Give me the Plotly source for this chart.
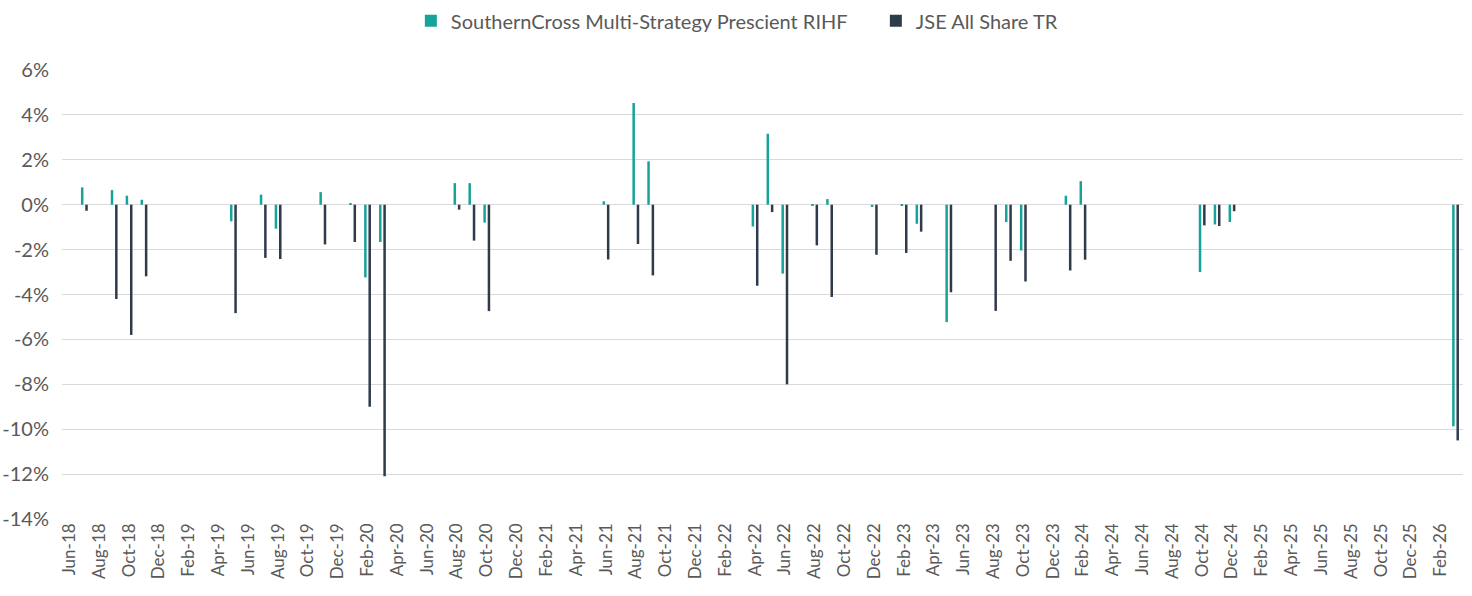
import plotly.graph_objects as go
import pandas as pd

months = [d.strftime("%b-%y") for d in pd.date_range("2018-06-01", "2026-03-01", freq="MS")]

# Non-zero monthly returns (%), keyed by month label
fund_vals = {
    "Jul-18": 0.77, "Sep-18": 0.65, "Oct-18": 0.40, "Nov-18": 0.22,
    "May-19": -0.74, "Jul-19": 0.45, "Aug-19": -1.07, "Nov-19": 0.56,
    "Jan-20": 0.05, "Feb-20": -3.24, "Mar-20": -1.66,
    "Aug-20": 0.96, "Sep-20": 0.96, "Oct-20": -0.80,
    "Jun-21": 0.15, "Aug-21": 4.53, "Sep-21": 1.93,
    "Apr-22": -0.97, "May-22": 3.16, "Jun-22": -3.07, "Aug-22": -0.05,
    "Sep-22": 0.25, "Dec-22": -0.10, "Feb-23": -0.06, "Mar-23": -0.85,
    "May-23": -5.23, "Sep-23": -0.77, "Oct-23": -2.04,
    "Jan-24": 0.40, "Feb-24": 1.05,
    "Oct-24": -3.00, "Nov-24": -0.88, "Dec-24": -0.77,
    "Mar-26": -9.87,
}
jse_vals = {
    "Jul-18": -0.27, "Sep-18": -4.20, "Oct-18": -5.80, "Nov-18": -3.19,
    "May-19": -4.83, "Jul-19": -2.37, "Aug-19": -2.42, "Nov-19": -1.77,
    "Jan-20": -1.66, "Feb-20": -9.00, "Mar-20": -12.10,
    "Aug-20": -0.22, "Sep-20": -1.60, "Oct-20": -4.74,
    "Jun-21": -2.44, "Aug-21": -1.75, "Sep-21": -3.15,
    "Apr-22": -3.61, "May-22": -0.33, "Jun-22": -8.00, "Aug-22": -1.81,
    "Sep-22": -4.11, "Dec-22": -2.23, "Feb-23": -2.15, "Mar-23": -1.20,
    "May-23": -3.90, "Aug-23": -4.73, "Sep-23": -2.50, "Oct-23": -3.42,
    "Jan-24": -2.93, "Feb-24": -2.45,
    "Oct-24": -0.92, "Nov-24": -0.95, "Dec-24": -0.29,
    "Mar-26": -10.50,
}

fund = [fund_vals.get(m) for m in months]
jse = [jse_vals.get(m) for m in months]

y_ticks = [6, 4, 2, 0, -2, -4, -6, -8, -10, -12, -14]
y_tick_text = [f"{v}%" for v in y_ticks]
x_ticks = months[::2]

TEAL = "#16A39A"
NAVY = "#2F3A4B"
FONT = "Lato, Open Sans, sans-serif"

fig = go.Figure()
fig.add_trace(go.Bar(x=months, y=fund, name="SouthernCross Multi-Strategy Prescient RIHF",
                     marker=dict(color=TEAL, line=dict(width=0))))
fig.add_trace(go.Bar(x=months, y=jse, name="JSE All Share TR",
                     marker=dict(color=NAVY, line=dict(width=0))))

fig.update_layout(
    width=1472, height=596,
    margin=dict(l=62, r=9, t=70, b=77),
    paper_bgcolor="white", plot_bgcolor="white",
    barmode="group", bargap=0.42, bargroupgap=0.42,
    font=dict(family=FONT, color="#595959", size=18),
    showlegend=True,
    legend=dict(orientation="h", x=0.249, xanchor="left", y=0.965, yanchor="middle",
                yref="container", font=dict(size=20, color="#595959"),
                entrywidth=420, entrywidthmode="pixels", itemwidth=30,
                traceorder="normal"),
    xaxis=dict(type="category", categoryorder="array", categoryarray=months,
               tickmode="array", tickvals=x_ticks, ticktext=x_ticks,
               tickangle=-90, showgrid=False, showline=False, zeroline=False,
               ticks="", automargin=False, tickfont=dict(size=17, color="#595959")),
    yaxis=dict(range=[-14, 6], tickmode="array", tickvals=y_ticks, ticktext=y_tick_text,
               showgrid=True, gridcolor="#D9D9D9", gridwidth=1.3,
               zeroline=True, zerolinecolor="#D9D9D9", zerolinewidth=1.3,
               showline=False, ticks="", ticklabelstandoff=12, automargin=False,
               tickfont=dict(size=20, color="#595959")),
)

fig.write_html("out.html", config={"displayModeBar": False},
               post_script="document.body.style.margin='0';document.body.style.overflow='hidden';")
